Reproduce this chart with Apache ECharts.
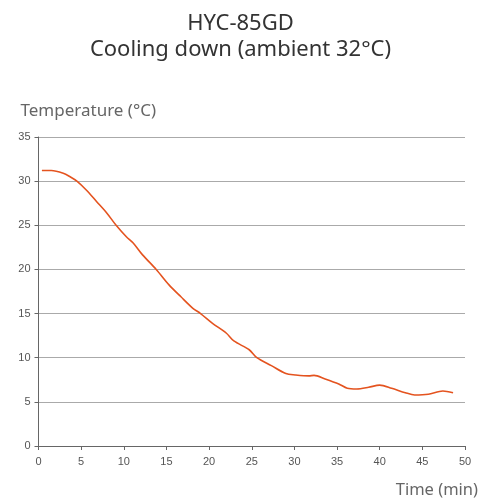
<!DOCTYPE html>
<html>
<head>
<meta charset="utf-8">
<script src="https://cdn.jsdelivr.net/npm/echarts@6/dist/echarts.min.js"></script>
<style>
  html, body { margin: 0; padding: 0; background: #fff; }
  #chart { width: 481px; height: 501px; }
</style>
</head>
<body>
<div id="chart"></div>
<script>
// time in minutes, temperature in °C
const times = [0.4, 1.5, 2.9, 3.7, 4.5, 5.6, 6.8, 8.0, 9.1, 10.3, 11.1, 12.2, 13.8, 15.3, 16.7, 18.1, 19.0, 20.4, 22.0, 22.9, 24.7, 25.6, 27.3, 29.0, 30.1, 31.7, 32.3, 33.6, 35.2, 36.2, 37.3, 38.7, 40.0, 41.4, 43.0, 44.1, 45.7, 47.4, 48.6]
const temps = [31.2, 31.2, 30.9, 30.5, 30.0, 29.0, 27.7, 26.4, 25.0, 23.7, 23.0, 21.65, 20.0, 18.25, 16.9, 15.6, 15.0, 13.9, 12.8, 11.9, 10.9, 10.0, 9.1, 8.2, 8.05, 7.94, 8.0, 7.6, 7.03, 6.54, 6.46, 6.65, 6.9, 6.54, 6.04, 5.78, 5.86, 6.23, 6.04]
const titleLines = ['HYC-85GD', 'Cooling down (ambient 32°C)']
const xTicks = { min: 0, max: 50, interval: 5 }
const yTicks = { min: 0, max: 35, interval: 5 }

const chart = echarts.init(document.getElementById('chart'), null, { renderer: 'canvas' })
const font = '"Noto Sans", sans-serif'

chart.setOption({
  animation: false,
  title: {
    text: titleLines.join('\n'),
    left: 'center',
    top: 6,
    textStyle: { fontFamily: font, fontSize: 22, fontWeight: 'normal', color: '#333', lineHeight: 26 }
  },
  grid: { left: 38.5, right: 14, top: 137, bottom: 55 },
  xAxis: {
    type: 'value',
    min: xTicks.min, max: xTicks.max, interval: xTicks.interval,
    name: 'Time (min)',
    nameLocation: 'end',
    nameGap: 13,
    nameTextStyle: { fontFamily: font, fontSize: 16.5, color: '#666', align: 'right', verticalAlign: 'top', padding: [36, 0, 0, 0] },
    axisLine: { lineStyle: { color: '#666' } },
    axisTick: { show: true, length: 4, lineStyle: { color: '#666' } },
    axisLabel: { color: '#555', fontSize: 11, margin: 10 },
    splitLine: { show: false }
  },
  yAxis: {
    type: 'value',
    min: yTicks.min, max: yTicks.max, interval: yTicks.interval,
    name: 'Temperature (°C)',
    nameLocation: 'end',
    nameGap: 17,
    nameTextStyle: { fontFamily: font, fontSize: 17, color: '#666', align: 'left', padding: [0, 0, 0, -18] },
    axisLine: { show: true, lineStyle: { color: '#666' } },
    axisTick: { show: true, length: 4, lineStyle: { color: '#666' } },
    axisLabel: { color: '#555', fontSize: 11, margin: 8 },
    splitLine: { lineStyle: { color: '#aaa' } }
  },
  series: [{
    type: 'line',
    data: times.map((t, i) => [t, temps[i]]),
    smooth: 0.3,
    showSymbol: false,
    lineStyle: { color: '#e4531f', width: 1.6 }
  }]
})
</script>
</body>
</html>
